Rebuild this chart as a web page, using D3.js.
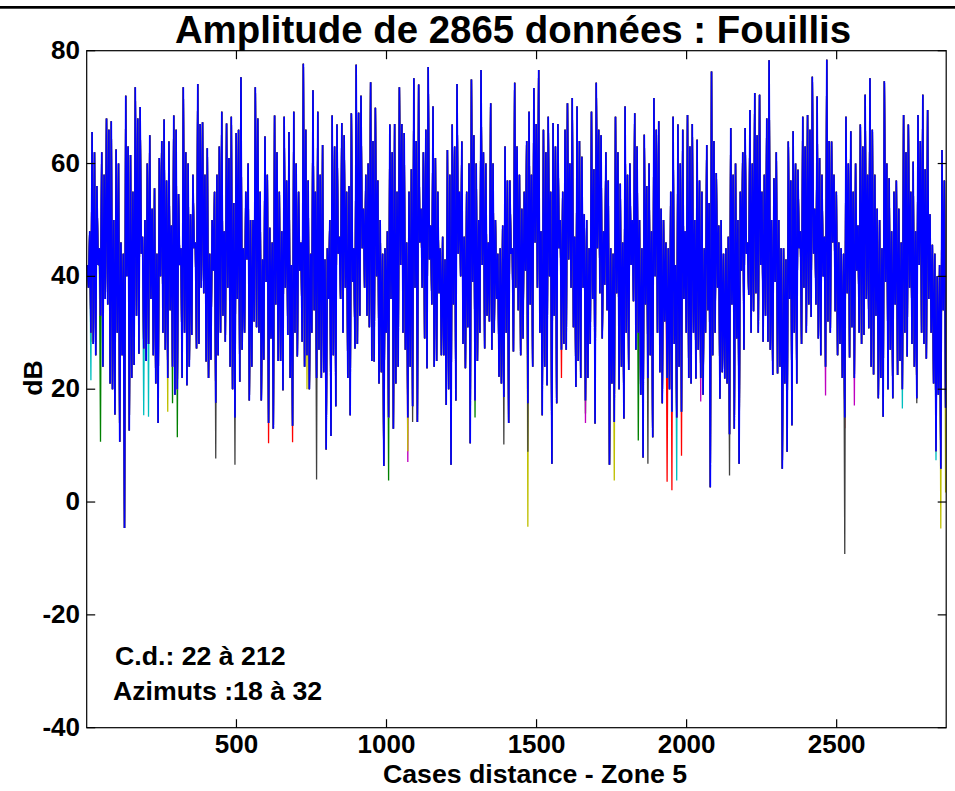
<!DOCTYPE html>
<html>
<head>
<meta charset="utf-8">
<script src="https://cdn.jsdelivr.net/npm/d3@7/dist/d3.min.js"></script>
<style>
    body { margin: 0; background: #fff; }
    text { font-family: "Liberation Sans", Arial, Helvetica, sans-serif; font-weight: bold; fill: #000; }
</style>
</head>
<body>
<svg id="chart" width="955" height="791"></svg>
<script>
// 2865 cases distance, read per block of 16 samples: max, inner low, inner high, min
const nSamples = 2865
const blockSize = 16

const peaks = [
    42, 65.6, 56, 62, 68, 67.5, 62.5, 46, 72, 61.5, 73.5, 70, 50, 65, 55.6, 61, 67.8, 63.9, 68.5, 54.6,
    73.5, 60, 58, 74.1, 67.3, 62.7, 50, 58, 69.2, 67.1, 68.3, 65.4, 75.3, 55, 50, 73.5, 55, 64.8, 48.6, 68.5,
    55, 68.3, 65.6, 69.2, 55, 77.7, 57, 73, 69.2, 63.3, 45, 68.5, 66.9, 67.2, 55, 68.9, 77.5, 72, 58, 74.4,
    69.9, 50, 45, 66.9, 67, 73.5, 65.4, 55, 75.1, 74, 62, 77.1, 70.1, 55, 47, 62.4, 66.9, 74.1, 63.9, 55,
    74.9, 60, 76.6, 60, 70.7, 50, 45, 63, 57, 74.3, 58,
    55, 69.2, 73.4, 76.6, 66, 68.3, 67.2, 67, 55, 70.7, 71.6, 70.1, 61.2, 50, 69.2, 74.3, 65, 62, 45,
    68.3, 56.4, 70.1, 60, 68.9, 50, 65.1, 60, 71.6, 67.5, 50, 45, 68.3, 66.9, 66, 68.6, 67, 64.2, 55, 63.3,
    76.3, 58.3, 50, 45, 66.3, 60, 55, 66.3, 69.5, 72.5, 72.2, 58, 78.3, 57.4, 50, 45, 63.9, 65.7, 58.9, 68.3,
    68.6, 75.4, 71.9, 58, 78.4, 63.9, 55, 45, 68.3, 65.7, 60, 66.9, 72.2, 75.1, 58, 50, 74.6, 57.4, 55, 52,
    68.6, 66.9, 60.3, 68.6, 72.2, 69.5, 45.6, 40, 62.4
]
const innerLow = [
    38, 28, 42, 24, 35, 20, 30, 26, 40, 22, 33, 44, 25, 36, 21, 40, 27, 34, 19, 42,
    30, 24, 45, 28, 37, 22, 41, 26, 33, 38, 20, 36, 27, 43, 24, 31, 18, 39, 29, 35,
    25, 38, 22, 30, 41, 24, 20, 34, 27, 23, 36, 26, 44, 30, 22, 39, 28, 45, 33, 25,
    40, 23, 30, 36, 21, 42, 27, 24, 38, 46, 29, 43, 24, 37, 26, 20, 35, 44, 28, 31,
    39, 25, 42, 33, 27, 36, 21, 30, 44, 38, 26, 41, 35, 46, 30, 24, 40, 33, 45, 28,
    43, 31, 25, 38, 22, 36, 45, 29, 34, 21, 37, 24, 30, 42, 27, 19, 35, 26, 40, 23,
    32, 20, 28, 24, 36, 22, 30, 27, 19, 34, 26, 38, 23, 21, 35, 29, 41, 44, 30, 37,
    42, 33, 27, 39, 24, 21, 36, 30, 45, 38, 35, 44, 29, 40, 32, 46, 26, 22, 37, 31,
    41, 28, 36, 24, 33, 22, 39, 27, 35, 25, 30, 38, 24, 42, 28, 36, 21, 19, 34
]
const innerHigh = [
    48, 62, 45, 58, 66, 50, 60, 44, 63, 55, 68, 47, 60, 52, 44, 64, 57, 49, 66, 45,
    62, 51, 46, 67, 58, 44, 55, 63, 48, 61, 53, 66, 45, 60, 50, 68, 43, 58, 46, 62,
    48, 57, 42, 60, 46, 66, 44, 55, 58, 43, 50, 63, 47, 65, 56, 45, 69, 52, 60, 64,
    57, 44, 48, 62, 55, 67, 46, 59, 64, 52, 66, 49, 61, 45, 43, 58, 63, 55, 47, 60,
    65, 50, 62, 46, 60, 44, 49, 57, 45, 63, 52, 64, 58, 67, 48, 62, 55, 63, 50, 66,
    60, 47, 64, 51, 45, 59, 66, 48, 57, 44, 62, 46, 58, 50, 63, 45, 56, 48, 66, 52,
    46, 55, 42, 60, 48, 63, 50, 57, 45, 53, 64, 49, 44, 47, 58, 50, 62, 46, 60, 65,
    55, 68, 50, 62, 45, 43, 57, 60, 48, 63, 66, 52, 61, 47, 64, 58, 46, 44, 60, 55,
    49, 63, 58, 66, 52, 45, 60, 48, 57, 46, 62, 55, 48, 64, 59, 51, 44, 42, 57
]
const troughs = [
    30, 26, 33, 36, 21, 15.5, 10.7, -4.6, 12.7, 24.3, 26.3, 27.2, 28, 26, 14, 30, 22, 24, 20, 22,
    20.7, 29.6, 27.2, 38, 24.9, 25.2, 17.6, 30, 28.4, 24, 15, 21.3, 30, 18, 32, 30, 25.2, 14, 13, 25,
    19.8, 29.6, 13.5, 25.8, 28.4, 26, 30, 22, 22, 9.3, 11.7, 17, 36, 38, 15.4, 27.2, 33, 38, 31, 24.9,
    21, 6.4, 15, 13, 24, 30, 15, 17, 14.2, 38, 23.7, 35, 25, 26, 17.2, 6.6, 18, 40, 23.7, 10.4,
    18, 30, 27.2, 32, 30, 22.2, 18.6, 14, 26.7, 34, 29,
    17.5, 24, 38, 15.4, 20.7, 6.8, 17.5, 27, 27, 38, 20.4, 22, 18, 28, 13.9, 37, 38.5, 6.6, 14.2,
    20, 14.8, 23.4, 35.6, 30, 7.9, 22, 11.5, 30, 17.5, 22, 16, 15, 16, 30, 21, 21.9, 22, 30, 2.6,
    30, 18.3, 21.9, 12, 13, 6.8, 27, 36.7, 33.8, 30, 28.4, 28.4, 22.5, 22.8, 5.9, 8.9, 13.6, 21, 28, 30,
    32.8, 35, 26, 24, 30, 33.8, 28, 15, 25.6, 22, 30, 29.6, 30.8, 22.6, 18.4, 15.1, 20, 18.4, 22.5, 20,
    25.8, 28, 18.4, 30, 25.4, 30, 9, 5.9, 16.7
]

// where the other azimuts dip below the blue one: [case distance, dB]
const tailsGreen = [[35, 10.7], [281, 17.5], [296, 11.5], [1003, 3.8], [1281, 15], [1655, 15.7], [1830, 10.9]]
const tailsRed = [[3, 28.4], [594, 10.4], [677, 10.6], [1574, 22], [1936, 3.6], [1950, 2.1], [1972, 8.2], [2522, 13.1]]
const tailsCyan = [[13, 21.6], [192, 15.4], [203, 15.1], [1955, 3.8], [2716, 16.6], [2822, 7.4]]
const tailsMagenta = [[1058, 7.1], [1661, 14], [2044, 17.8], [2461, 18.9], [2559, 17.1]]
const tailsYellow = [[263, 16], [726, 20], [1058, 9], [1461, -4.4], [1745, 3.8], [2833, -4.7], [2849, 1.7]]
const tailsBlack = [[417, 7.7], [488, 6.6], [764, 4], [1083, 14.2], [1391, 10.2], [1461, 8.9], [1861, 6.8], [2134, 4.7], [2528, -9.2], [2761, 17.5]]

const xTicks = [500, 1000, 1500, 2000, 2500]
const yTicks = [-40, -20, 0, 20, 40, 60, 80]

const svg = d3.select('#chart')
const axLeft = 86.7, axRight = 946.2, axTop = 50.7, axBottom = 727.7

const x = d3.scaleLinear().domain([1, nSamples]).range([axLeft, axRight])
const y = d3.scaleLinear().domain([-40, 80]).range([axBottom, axTop])

// bande noire en haut de la figure
svg.append('rect').attr('x', 0).attr('y', 6).attr('width', 955).attr('height', 2.7).attr('fill', '#000')

svg.append('defs').append('clipPath').attr('id', 'clip')
    .append('rect').attr('x', axLeft).attr('y', axTop).attr('width', axRight - axLeft).attr('height', axBottom - axTop)

// courbe de base : max, creux, bosse, min pour chaque bloc
const base = []
peaks.forEach((p, i) => {
    const c0 = 1 + i * blockSize
    base.push({ c: c0 + 2, v: p })
    base.push({ c: c0 + 6, v: innerLow[i] })
    base.push({ c: c0 + 10, v: innerHigh[i] })
    base.push({ c: c0 + 14, v: troughs[i] })
})

function withTails(tails) {
    const pts = base.map(d => ({ c: d.c, v: d.v }))
    tails.forEach(([c, v]) => {
        const block = Math.floor((c - 1) / blockSize)
        pts[block * 4 + 3].v = v
    })
    return pts
}

const line = d3.line().x(d => x(d.c)).y(d => y(d.v))
const plot = svg.append('g').attr('clip-path', 'url(#clip)')

const layers = [
    { color: '#008000', tails: tailsGreen },
    { color: '#ff0000', tails: tailsRed },
    { color: '#00bfbf', tails: tailsCyan },
    { color: '#bf00bf', tails: tailsMagenta },
    { color: '#bfbf00', tails: tailsYellow },
    { color: '#404040', tails: tailsBlack }
]
layers.forEach(l => {
    plot.append('path')
        .datum(withTails(l.tails))
        .attr('fill', 'none')
        .attr('stroke', l.color)
        .attr('stroke-width', 1.3)
        .attr('d', line)
})
plot.append('path')
    .datum(base)
    .attr('fill', 'none')
    .attr('stroke', '#0000ff')
    .attr('stroke-width', 1.6)
    .attr('d', line)

// cadre + graduations (vers l'intérieur, sur les 4 côtés)
const axes = svg.append('g').attr('stroke', '#000').attr('stroke-width', 1.2)
axes.append('rect').attr('x', axLeft).attr('y', axTop).attr('width', axRight - axLeft).attr('height', axBottom - axTop).attr('fill', 'none')
xTicks.forEach(t => {
    axes.append('line').attr('x1', x(t)).attr('x2', x(t)).attr('y1', axBottom).attr('y2', axBottom - 8.5)
    axes.append('line').attr('x1', x(t)).attr('x2', x(t)).attr('y1', axTop).attr('y2', axTop + 8.5)
})
yTicks.forEach(t => {
    axes.append('line').attr('x1', axLeft).attr('x2', axLeft + 8.5).attr('y1', y(t)).attr('y2', y(t))
    axes.append('line').attr('x1', axRight).attr('x2', axRight - 8.5).attr('y1', y(t)).attr('y2', y(t))
})

svg.selectAll('.xlab').data(xTicks).enter().append('text')
    .attr('x', d => x(d)).attr('y', 753).attr('text-anchor', 'middle')
    .style('font-size', '26px').text(d => d)
svg.selectAll('.ylab').data(yTicks).enter().append('text')
    .attr('x', 80).attr('y', d => y(d) + 8).attr('text-anchor', 'end')
    .style('font-size', '26px').text(d => d)

svg.append('text').attr('x', 513).attr('y', 43).attr('text-anchor', 'middle')
    .style('font-size', '38.4px').text('Amplitude de 2865 données : Fouillis')
svg.append('text').attr('x', 383).attr('y', 783)
    .style('font-size', '26.7px').text('Cases distance - Zone 5')
svg.append('text').attr('transform', 'translate(42,378) rotate(-90)').attr('text-anchor', 'middle')
    .style('font-size', '26.7px').text('dB')
svg.append('text').attr('x', 115).attr('y', 665).style('font-size', '26.7px').text('C.d.: 22 à 212')
svg.append('text').attr('x', 113).attr('y', 700).style('font-size', '26.7px').text('Azimuts :18 à 32')
</script>
</body>
</html>
